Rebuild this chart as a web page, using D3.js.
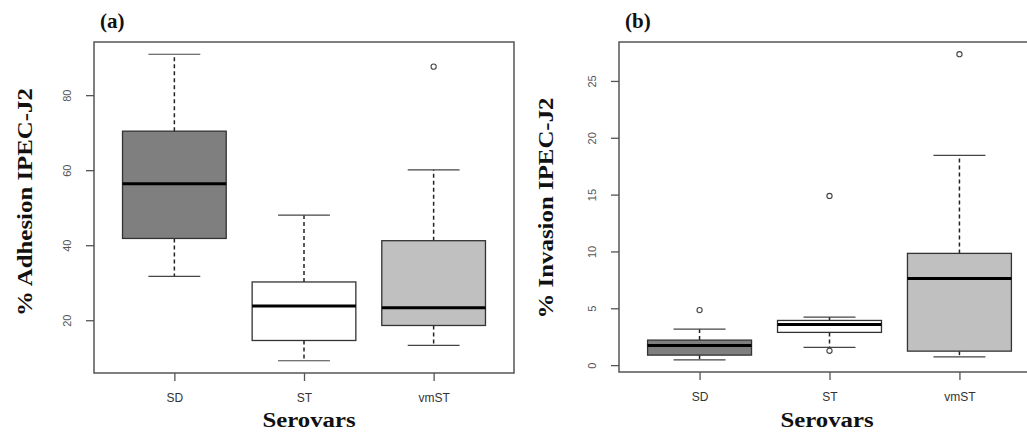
<!DOCTYPE html>
<html>
<head>
<meta charset="utf-8">
<script src="https://cdn.jsdelivr.net/npm/d3@7"></script>
<style>
  body { margin: 0; background: #fff; }
  svg { display: block; }
</style>
</head>
<body>
<div id="chart"></div>
<script>
const width = 1027;
const height = 434;

// data: [lower whisker, Q1, median, Q3, upper whisker]
const categories = ["SD", "ST", "vmST"];
const adhesionStats = [
    [31.7, 41.8, 56.4, 70.4, 90.9],
    [9.2, 14.6, 23.8, 30.2, 48.0],
    [13.3, 18.6, 23.3, 41.2, 60.1]
];
const adhesionOutliers = [[], [], [87.6]];
const adhesionTicks = [20, 40, 60, 80];

const invasionStats = [
    [0.47, 0.88, 1.73, 2.20, 3.17],
    [1.56, 2.88, 3.58, 3.93, 4.23],
    [0.73, 1.23, 7.63, 9.83, 18.46]
];
const invasionOutliers = [[4.84], [14.88, 1.26], [27.35]];
const invasionTicks = [0, 5, 10, 15, 20, 25];

const boxFills = ["#7f7f7f", "#ffffff", "#c0c0c0"];

const svg = d3.select("#chart")
    .append("svg")
    .attr("width", width)
    .attr("height", height);

const serif = "Liberation Serif, Times New Roman, serif";
const sans = "Liberation Sans, Arial, sans-serif";

function drawPanel(opt) {
    const { left, right, top, bottom, stats, outliers, ticks, label, yTitle, titleX, titleY, xTitleX } = opt;

    // R style: 4% padding around data range
    const all = stats.flat().concat(outliers.flat());
    const lo = d3.min(all), hi = d3.max(all);
    const pad = (hi - lo) * 0.04;
    const y = d3.scaleLinear().domain([lo - pad, hi + pad]).range([bottom, top]);
    const x = d3.scaleLinear().domain([0.38, 3.62]).range([left, right]);
    const unit = x(1) - x(0);

    const g = svg.append("g");

    // boxes
    stats.forEach((s, i) => {
        const cx = x(i + 1);
        const bw = unit * 0.8;
        const sw = unit * 0.4;
        const [wLo, q1, med, q3, wHi] = s;

        // whiskers
        g.append("line")
            .attr("x1", cx).attr("x2", cx)
            .attr("y1", y(q3)).attr("y2", y(wHi))
            .attr("stroke", "#222").attr("stroke-width", 1.5)
            .attr("stroke-dasharray", "4,3");
        g.append("line")
            .attr("x1", cx).attr("x2", cx)
            .attr("y1", y(q1)).attr("y2", y(wLo))
            .attr("stroke", "#222").attr("stroke-width", 1.5)
            .attr("stroke-dasharray", "4,3");
        [wLo, wHi].forEach(v => {
            g.append("line")
                .attr("x1", cx - sw / 2).attr("x2", cx + sw / 2)
                .attr("y1", y(v)).attr("y2", y(v))
                .attr("stroke", "#444").attr("stroke-width", 1.2);
        });

        g.append("rect")
            .attr("x", cx - bw / 2)
            .attr("y", y(q3))
            .attr("width", bw)
            .attr("height", y(q1) - y(q3))
            .attr("fill", boxFills[i])
            .attr("stroke", "#333")
            .attr("stroke-width", 1.3);

        g.append("line")
            .attr("x1", cx - bw / 2).attr("x2", cx + bw / 2)
            .attr("y1", y(med)).attr("y2", y(med))
            .attr("stroke", "#000").attr("stroke-width", 3);

        outliers[i].forEach(v => {
            g.append("circle")
                .attr("cx", cx).attr("cy", y(v)).attr("r", 2.6)
                .attr("fill", "none")
                .attr("stroke", "#444").attr("stroke-width", 1.1);
        });
    });

    // frame
    g.append("rect")
        .attr("x", left).attr("y", top)
        .attr("width", right - left).attr("height", bottom - top)
        .attr("fill", "none")
        .attr("stroke", "#555").attr("stroke-width", 1.5);

    // y axis
    const yAxis = g.append("g")
        .attr("transform", `translate(${left},0)`)
        .call(d3.axisLeft(y).tickValues(ticks).tickSize(8).tickSizeOuter(0));
    yAxis.select(".domain").remove();
    yAxis.selectAll(".tick line").attr("stroke", "#555").attr("stroke-width", 1.3);
    yAxis.selectAll(".tick text")
        .attr("x", null).attr("dy", null)
        .attr("transform", "translate(-23,0) rotate(-90)")
        .attr("text-anchor", "middle")
        .attr("font-family", sans)
        .attr("font-size", 11)
        .attr("fill", "#555");

    // x axis
    const xAxis = g.append("g")
        .attr("transform", `translate(0,${bottom})`)
        .call(d3.axisBottom(x).tickValues([1, 2, 3]).tickSize(8)
            .tickFormat(d => categories[d - 1]));
    xAxis.select(".domain").remove();
    xAxis.selectAll(".tick line").attr("stroke", "#555").attr("stroke-width", 1.3);
    xAxis.selectAll(".tick text")
        .attr("y", 20)
        .attr("font-family", sans)
        .attr("font-size", 12)
        .attr("fill", "#333");

    // titles (the original text is a bit stretched along its length)
    svg.append("text")
        .attr("transform", `translate(${xTitleX},427) scale(1.18,1)`)
        .attr("text-anchor", "middle")
        .attr("font-family", serif)
        .attr("font-weight", "bold")
        .attr("font-size", 21)
        .attr("fill", "#111")
        .text("Serovars");

    svg.append("text")
        .attr("transform", `translate(${titleX},${titleY}) rotate(-90) scale(1.13,1)`)
        .attr("text-anchor", "middle")
        .attr("font-family", serif)
        .attr("font-weight", "bold")
        .attr("font-size", 22)
        .attr("fill", "#111")
        .text(yTitle);

    svg.append("text")
        .attr("x", left + 6)
        .attr("y", 28)
        .attr("font-family", serif)
        .attr("font-weight", "bold")
        .attr("font-size", 21)
        .attr("fill", "#111")
        .text(label);
}

drawPanel({
    left: 94, right: 514, top: 42, bottom: 373,
    stats: adhesionStats, outliers: adhesionOutliers, ticks: adhesionTicks,
    label: "(a)", yTitle: "% Adhesion IPEC-J2", titleX: 32, titleY: 202, xTitleX: 309
});

drawPanel({
    left: 619, right: 1040, top: 42, bottom: 372,
    stats: invasionStats, outliers: invasionOutliers, ticks: invasionTicks,
    label: "(b)", yTitle: "% Invasion IPEC-J2", titleX: 553, titleY: 208, xTitleX: 827
});
</script>
</body>
</html>
